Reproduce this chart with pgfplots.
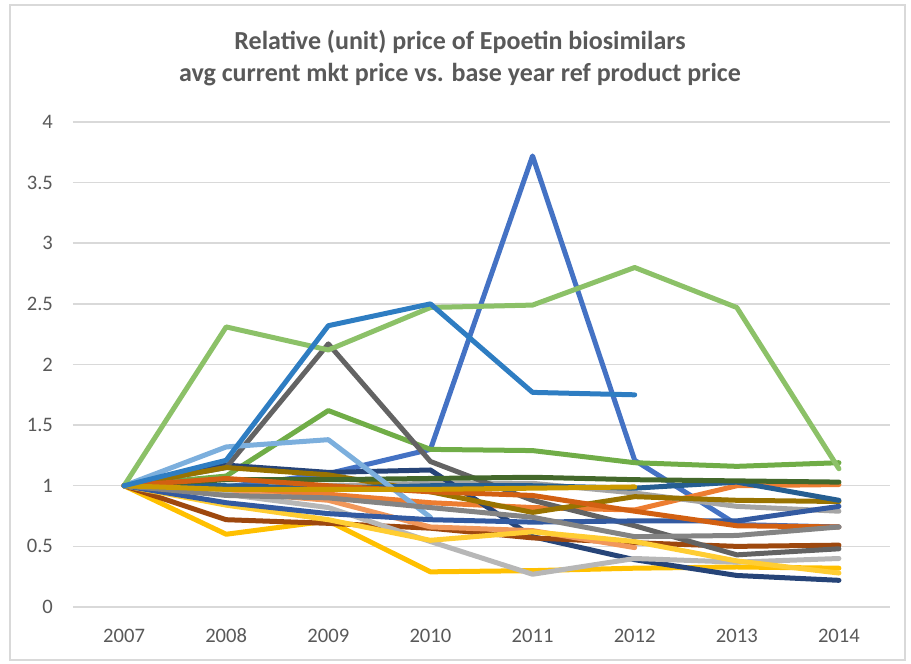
\documentclass[border=0pt]{standalone}
\usepackage{pgfplots}
\pgfplotsset{compat=1.18}
\usepackage{fontspec}
\setmainfont{Carlito}

\definecolor{txt}{HTML}{595959}
\definecolor{gridc}{HTML}{D9D9D9}
\definecolor{cA}{HTML}{4472C4}
\definecolor{cB}{HTML}{ED7D31}
\definecolor{cC}{HTML}{A5A5A5}
\definecolor{cD}{HTML}{FFC000}
\definecolor{cF}{HTML}{70AD47}
\definecolor{cG}{HTML}{264478}
\definecolor{cH}{HTML}{9E480E}
\definecolor{cI}{HTML}{636363}
\definecolor{cJ}{HTML}{997300}
\definecolor{cK}{HTML}{255E91}
\definecolor{cL}{HTML}{43682B}
\definecolor{cN}{HTML}{F1975A}
\definecolor{cO}{HTML}{B7B7B7}
\definecolor{cP}{HTML}{FFCD33}
\definecolor{cQ}{HTML}{7CAFDD}
\definecolor{cR}{HTML}{8CC168}
\definecolor{cS}{HTML}{335AA1}
\definecolor{cT}{HTML}{D26012}
\definecolor{cU}{HTML}{848484}
\definecolor{cV}{HTML}{CC9A00}
\definecolor{cW}{HTML}{2E7DC2}

\begin{document}
\begin{tikzpicture}[x=1pt,y=1pt]
\useasboundingbox (-36.5,-28.5) rectangle (419,303.5);
\draw[gridc, line width=0.6pt] (-31.5,-26.5) rectangle (416,301);
\begin{axis}[
    at={(0,0)}, anchor=south west,
    scale only axis, width=408.5pt, height=242.5pt,
    xmin=-0.5, xmax=7.5, ymin=0, ymax=4,
    xtick={0,...,7},
    xticklabels={2007,2008,2009,2010,2011,2012,2013,2014},
    ytick={0,0.5,...,4},
    axis line style={draw=none},
    major tick style={draw=none},
    ymajorgrids,
    grid style={gridc, line width=0.75pt},
    ticklabel style={font=\fontsize{10.3}{12}\selectfont, text=txt},
    /pgf/number format/assume math mode=true,
    x tick label style={anchor=base, yshift=-17.5pt},
    y tick label style={xshift=-6.5pt},
    clip=false,
    every axis plot/.append style={line width=2.5pt, line cap=round, line join=round, mark=none},
  ]
\addplot[cA] coordinates {(0,1) (1,0.99) (2,1.10) (3,1.30) (4,3.72) (5,1.21) (6,0.68) (7,0.66)};
\addplot[cB] coordinates {(0,1) (1,0.97) (2,0.93) (3,0.86) (4,0.82) (5,0.80) (6,1.00) (7,1.01)};
\addplot[cC] coordinates {(0,1) (1,0.98) (2,1.00) (3,1.02) (4,1.02) (5,0.94) (6,0.83) (7,0.79)};
\addplot[cD] coordinates {(0,1) (1,0.60) (2,0.71) (3,0.29) (4,0.30) (5,0.32) (6,0.33) (7,0.32)};
\addplot[cF] coordinates {(0,1) (1,1.08) (2,1.62) (3,1.30) (4,1.29) (5,1.19) (6,1.16) (7,1.19)};
\addplot[cG] coordinates {(0,1) (1,1.17) (2,1.11) (3,1.13) (4,0.58) (5,0.39) (6,0.26) (7,0.22)};
\addplot[cH] coordinates {(0,1) (1,0.72) (2,0.69) (3,0.65) (4,0.57) (5,0.53) (6,0.50) (7,0.51)};
\addplot[cI] coordinates {(0,1) (1,1.15) (2,2.17) (3,1.20) (4,0.88) (5,0.67) (6,0.43) (7,0.48)};
\addplot[cJ] coordinates {(0,1) (1,1.15) (2,1.09) (3,0.95) (4,0.78) (5,0.91) (6,0.88) (7,0.87)};
\addplot[cK] coordinates {(0,1) (1,1.00) (2,0.98) (3,1.00) (4,1.00) (5,0.98) (6,1.03) (7,0.88)};
\addplot[cL] coordinates {(0,1) (1,1.05) (2,1.05) (3,1.06) (4,1.07) (5,1.05) (6,1.04) (7,1.03)};
\addplot[cN] coordinates {(0,1) (1,0.95) (2,0.88) (3,0.66) (4,0.63) (5,0.49)};
\addplot[cO] coordinates {(0,1) (1,0.93) (2,0.82) (3,0.54) (4,0.27) (5,0.40) (6,0.37) (7,0.40)};
\addplot[cP] coordinates {(0,1) (1,0.84) (2,0.72) (3,0.55) (4,0.62) (5,0.54) (6,0.38) (7,0.28)};
\addplot[cQ] coordinates {(0,1) (1,1.32) (2,1.38) (3,0.74)};
\addplot[cR] coordinates {(0,1) (1,2.31) (2,2.12) (3,2.47) (4,2.49) (5,2.80) (6,2.47) (7,1.14)};
\addplot[cS] coordinates {(0,1) (1,0.86) (2,0.77) (3,0.72) (4,0.70) (5,0.71) (6,0.71) (7,0.83)};
\addplot[cT] coordinates {(0,1) (1,1.06) (2,1.00) (3,0.95) (4,0.92) (5,0.79) (6,0.67) (7,0.66)};
\addplot[cU] coordinates {(0,1) (1,0.92) (2,0.90) (3,0.82) (4,0.74) (5,0.58) (6,0.59) (7,0.66)};
\addplot[cV] coordinates {(0,1) (1,0.97) (2,0.97) (3,0.97) (4,0.98) (5,0.99)};
\addplot[cW] coordinates {(0,1) (1,1.21) (2,2.32) (3,2.50) (4,1.77) (5,1.75)};
\end{axis}
\node[font=\fontsize{13}{16}\selectfont\bfseries, text=txt, align=center] at (193.5,274.5)
  {Relative (unit) price of Epoetin biosimilars\\avg current mkt price vs. base year ref product price};
\end{tikzpicture}
\end{document}
